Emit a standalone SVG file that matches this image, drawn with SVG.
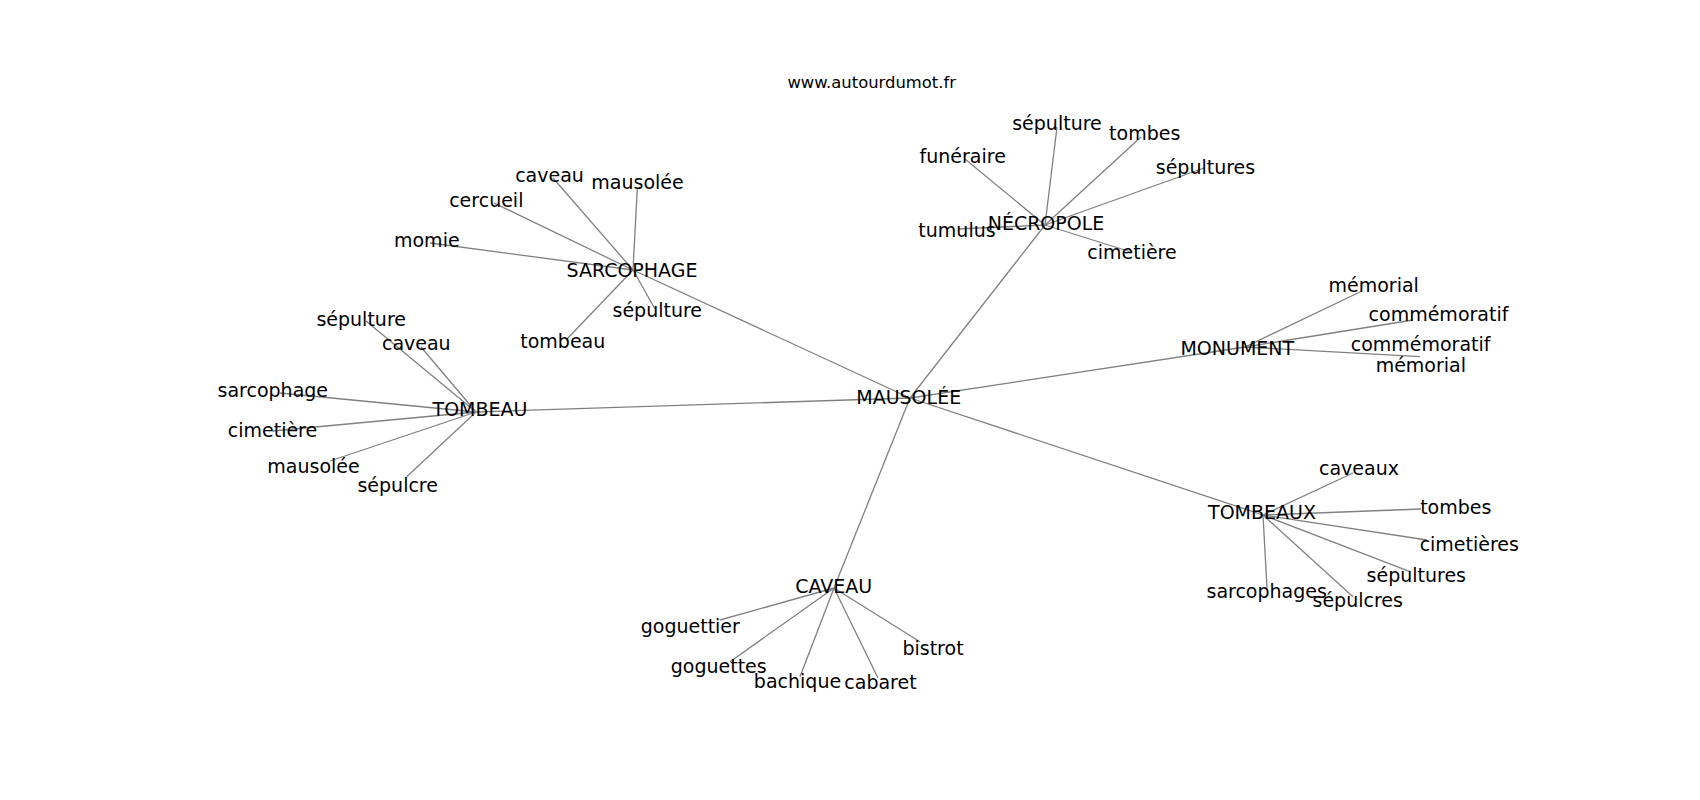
<svg xmlns="http://www.w3.org/2000/svg" width="1700" height="800" viewBox="0 0 1700 800">
<style>
text{font-family:"DejaVu Sans","Liberation Sans",sans-serif;font-size:19px;fill:#000;text-anchor:middle}
.title{font-size:16.4px}
#edges line{stroke:#808080;stroke-width:1.3;stroke-linecap:butt}
</style>
<rect width="1700" height="800" fill="#fff"/>
<text class="title" x="871.7" y="88.3">www.autourdumot.fr</text>
<g id="edges">
<line x1="910" y1="398" x2="633" y2="270"/>
<line x1="910" y1="398" x2="1045" y2="225"/>
<line x1="910" y1="398" x2="1245" y2="347"/>
<line x1="910" y1="398" x2="1263" y2="515"/>
<line x1="910" y1="398" x2="834" y2="588"/>
<line x1="910" y1="398" x2="476" y2="412"/>
<line x1="633" y1="270" x2="553" y2="178"/>
<line x1="633" y1="270" x2="637.3" y2="188"/>
<line x1="633" y1="270" x2="494" y2="203"/>
<line x1="633" y1="270" x2="430" y2="243"/>
<line x1="633" y1="270" x2="655" y2="309"/>
<line x1="633" y1="270" x2="566" y2="340"/>
<line x1="1045" y1="225" x2="1057" y2="127"/>
<line x1="1045" y1="225" x2="1141" y2="137"/>
<line x1="1045" y1="225" x2="965" y2="159"/>
<line x1="1045" y1="225" x2="1204" y2="168"/>
<line x1="1045" y1="225" x2="958" y2="229"/>
<line x1="1045" y1="225" x2="1131" y2="252"/>
<line x1="476" y1="412" x2="366" y2="321"/>
<line x1="476" y1="412" x2="421" y2="347"/>
<line x1="476" y1="412" x2="280" y2="393"/>
<line x1="476" y1="412" x2="272.5" y2="431"/>
<line x1="476" y1="412" x2="330" y2="461"/>
<line x1="476" y1="412" x2="406.7" y2="476.7"/>
<line x1="1245" y1="347" x2="1362" y2="291"/>
<line x1="1245" y1="347" x2="1413" y2="320"/>
<line x1="1245" y1="347" x2="1420" y2="356.7"/>
<line x1="1263" y1="515" x2="1353" y2="473"/>
<line x1="1263" y1="515" x2="1421" y2="509"/>
<line x1="1263" y1="515" x2="1427" y2="540"/>
<line x1="1263" y1="515" x2="1410" y2="571.7"/>
<line x1="1263" y1="515" x2="1353" y2="596.7"/>
<line x1="1263" y1="515" x2="1267" y2="588"/>
<line x1="834" y1="588" x2="720" y2="620"/>
<line x1="834" y1="588" x2="730" y2="661.7"/>
<line x1="834" y1="588" x2="800" y2="676.7"/>
<line x1="834" y1="588" x2="878" y2="678"/>
<line x1="834" y1="588" x2="920" y2="641.7"/>
</g>
<g id="n-mausolee"><text x="908.7" y="404">MAUSOLÉE</text></g>
<g id="n-sarcophage"><text x="632" y="276.7">SARCOPHAGE</text></g>
<g id="n-necropole"><text x="1046" y="230">NÉCROPOLE</text></g>
<g id="n-monument"><text x="1237.3" y="355">MONUMENT</text></g>
<g id="n-tombeaux"><text x="1262" y="519.3">TOMBEAUX</text></g>
<g id="n-caveau"><text x="833.7" y="593.3">CAVEAU</text></g>
<g id="n-tombeau"><text x="480" y="415.8">TOMBEAU</text></g>
<g id="n-s-caveau"><text x="549.5" y="181.7">caveau</text></g>
<g id="n-s-mausolee"><text x="637.5" y="189.3">mausolée</text></g>
<g id="n-s-cercueil"><text x="486.3" y="206.7">cercueil</text></g>
<g id="n-s-momie"><text x="426.8" y="246.7">momie</text></g>
<g id="n-s-sepulture"><text x="657.3" y="316.7">sépulture</text></g>
<g id="n-s-tombeau"><text x="562.8" y="348.3">tombeau</text></g>
<g id="n-n-sepulture"><text x="1057" y="130">sépulture</text></g>
<g id="n-n-tombes"><text x="1144.7" y="140">tombes</text></g>
<g id="n-n-funeraire"><text x="962.7" y="163.3">funéraire</text></g>
<g id="n-n-sepultures"><text x="1205.5" y="174">sépultures</text></g>
<g id="n-n-tumulus"><text x="957" y="236.7">tumulus</text></g>
<g id="n-n-cimetiere"><text x="1132" y="259.3">cimetière</text></g>
<g id="n-t-sepulture"><text x="361.2" y="326">sépulture</text></g>
<g id="n-t-caveau"><text x="416.3" y="350">caveau</text></g>
<g id="n-t-sarcophage"><text x="272.8" y="396.7">sarcophage</text></g>
<g id="n-t-cimetiere"><text x="272.5" y="436.7">cimetière</text></g>
<g id="n-t-mausolee"><text x="313.5" y="472.7">mausolée</text></g>
<g id="n-t-sepulcre"><text x="397.7" y="491.7">sépulcre</text></g>
<g id="n-m-memorial"><text x="1373.7" y="291.7">mémorial</text></g>
<g id="n-m-commemoratif"><text x="1438.5" y="320.7">commémoratif</text></g>
<g id="n-m-commemoratif-memorial"><text x="1420.6" y="351">commémoratif</text><text x="1420.8" y="371.7">mémorial</text></g>
<g id="n-x-caveaux"><text x="1359" y="475">caveaux</text></g>
<g id="n-x-tombes"><text x="1455.8" y="514">tombes</text></g>
<g id="n-x-cimetieres"><text x="1469.3" y="550.7">cimetières</text></g>
<g id="n-x-sepultures"><text x="1416.3" y="581.7">sépultures</text></g>
<g id="n-x-sepulcres"><text x="1357.7" y="606.7">sépulcres</text></g>
<g id="n-x-sarcophages"><text x="1266.7" y="598.3">sarcophages</text></g>
<g id="n-c-goguettier"><text x="690.3" y="633.3">goguettier</text></g>
<g id="n-c-goguettes"><text x="718.7" y="673.3">goguettes</text></g>
<g id="n-c-bachique"><text x="797.5" y="688.3">bachique</text></g>
<g id="n-c-cabaret"><text x="880.5" y="689.3">cabaret</text></g>
<g id="n-c-bistrot"><text x="933" y="655">bistrot</text></g>
</svg>
